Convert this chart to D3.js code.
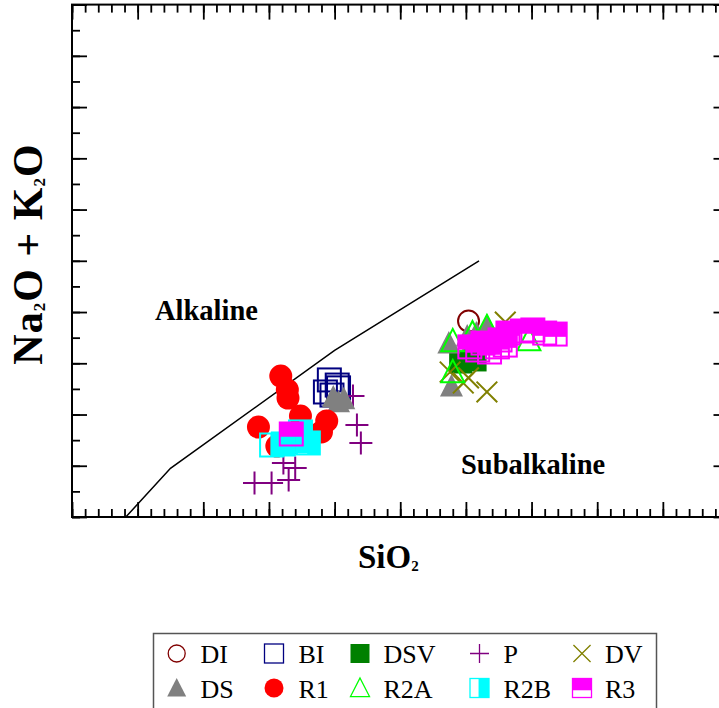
<!DOCTYPE html>
<html><head><meta charset="utf-8">
<script src="https://cdn.jsdelivr.net/npm/d3@7"></script>
<style>body{margin:0;background:#fff}svg{display:block}</style>
</head><body>
<script>
// ---- data (SiO2 wt%, Na2O+K2O wt%) ----
const xTicksMajor = [35,40,45,50,55,60,65,70,75,80,85];
const yTicksMajor = [0,2,4,6,8,10,12,14,16,18,20];
const boundarySiO2 = [39.1, 42.5, 55.0, 66.0];
const boundaryAlk  = [0.0, 1.9, 6.5, 10.0];

const DI_x = [65.2]; const DI_y = [7.65];
const BI_x = [54.6,55.2,54.3,55.3,54.8]; const BI_y = [5.35,5.15,4.88,5.04,4.76];
const DSV_x = [64.6,65.7]; const DSV_y = [6.05,6.13];
const P_x = [48.9,50.2,51.1,52.0,51.5,56.7,57.0,56.4]; const P_y = [1.33,1.33,2.11,1.91,1.44,3.59,2.89,4.72];
const DS_x = [54.9,55.7,55.3,63.7,65.1,65.8,66.6,63.9]; const DS_y = [4.68,4.61,4.49,6.79,7.06,7.18,7.46,5.11];
const DV_x = [68.0,66.6,64.8,65.2,63.8]; const DV_y = [7.61,4.88,5.23,5.43,5.66];
const R1_x = [50.9,51.4,51.45,52.4,54.4,54.0,49.2,50.6,51.8]; const R1_y = [5.50,4.96,4.64,3.94,3.75,3.32,3.51,2.77,2.89];
const R2A_x = [64.0,65.5,66.6,64.0,69.8]; const R2A_y = [6.87,7.18,7.42,5.66,6.91];
const R2B_x = [50.2,51.1,52.4,53.0,52.1]; const R2B_y = [2.81,2.85,3.32,2.89,2.97];
const R3_x = [51.7,65.3,66.3,67.4,66.8,68.2,69.3,70.1,71.0,71.8,67.6,68.0,65.9];
const R3_y = [3.24,6.64,6.79,6.64,6.44,7.18,7.26,7.30,7.18,7.14,6.91,6.71,6.52];

const legendNames = ["DI","BI","DSV","P","DV","DS","R1","R2A","R2B","R3"];

// ---- drawing ----
const W = 719, H = 708;
const svg = d3.select("body").append("svg").attr("width", W).attr("height", H);
const x = d3.scaleLinear().domain([35,85]).range([72,728.5]);
const y = d3.scaleLinear().domain([0,20]).range([517,4.6]);
const font = "'Liberation Serif','Times New Roman',serif";

const minorX = d3.range(35,86,1), minorY = d3.range(0,21,1);
function axisG(axis, tr){ const g = svg.append("g").attr("transform", tr).call(axis);
  g.selectAll("path,line").attr("stroke","#000").attr("stroke-width",1.8); g.select(".domain").remove(); return g; }
axisG(d3.axisBottom(x).tickValues(minorX).tickSize(-8).tickFormat(""), `translate(0,${y(0)})`);
axisG(d3.axisBottom(x).tickValues(xTicksMajor).tickSize(-15).tickFormat(""), `translate(0,${y(0)})`);
axisG(d3.axisTop(x).tickValues(minorX).tickSize(-8).tickFormat(""), `translate(0,${y(20)})`);
axisG(d3.axisTop(x).tickValues(xTicksMajor).tickSize(-15).tickFormat(""), `translate(0,${y(20)})`);
axisG(d3.axisLeft(y).tickValues(minorY).tickSize(-8).tickFormat(""), `translate(${x(35)},0)`);
axisG(d3.axisLeft(y).tickValues(yTicksMajor).tickSize(-15).tickFormat(""), `translate(${x(35)},0)`);
axisG(d3.axisRight(y).tickValues(minorY).tickSize(-8).tickFormat(""), `translate(${x(85)},0)`);
axisG(d3.axisRight(y).tickValues(yTicksMajor).tickSize(-15).tickFormat(""), `translate(${x(85)},0)`);
svg.append("rect").attr("x",x(35)).attr("y",y(20)).attr("width",x(85)-x(35)).attr("height",y(0)-y(20))
  .attr("fill","none").attr("stroke","#000").attr("stroke-width",2);

// boundary line
svg.append("path").datum(d3.zip(boundarySiO2, boundaryAlk))
  .attr("d", d3.line().x(d=>x(d[0])).y(d=>y(d[1])))
  .attr("fill","none").attr("stroke","#000").attr("stroke-width",1.5);

// field labels
svg.append("text").attr("x",155).attr("y",320).attr("font-family",font).attr("font-weight","bold").attr("font-size",28.5).text("Alkaline");
svg.append("text").attr("x",461).attr("y",474).attr("font-family",font).attr("font-weight","bold").attr("font-size",28.5).text("Subalkaline");

// markers
function marker(g, type, cx, cy, s, sw){
  const h = s/2;
  if(type==="DI"){ g.append("circle").attr("cx",cx).attr("cy",cy).attr("r",h-1).attr("fill","none").attr("stroke","#800000").attr("stroke-width",sw); }
  else if(type==="BI"){ g.append("rect").attr("x",cx-h).attr("y",cy-h).attr("width",s).attr("height",s).attr("fill","none").attr("stroke","#000080").attr("stroke-width",sw); }
  else if(type==="DSV"){ g.append("rect").attr("x",cx-h).attr("y",cy-h).attr("width",s).attr("height",s).attr("fill","#008000"); }
  else if(type==="P"){ g.append("path").attr("d",`M${cx-h},${cy}H${cx+h}M${cx},${cy-h}V${cy+h}`).attr("stroke","#800080").attr("stroke-width",sw); }
  else if(type==="DV"){ const k=h*0.9; g.append("path").attr("d",`M${cx-k},${cy-k}L${cx+k},${cy+k}M${cx-k},${cy+k}L${cx+k},${cy-k}`).attr("stroke","#808000").attr("stroke-width",sw); }
  else if(type==="DS"){ g.append("path").attr("d",`M${cx},${cy-h*1.05}L${cx+h},${cy+h*0.9}L${cx-h},${cy+h*0.9}Z`).attr("fill","#808080"); }
  else if(type==="R1"){ g.append("circle").attr("cx",cx).attr("cy",cy).attr("r",h).attr("fill","#ff0000"); }
  else if(type==="R2A"){ g.append("path").attr("d",`M${cx},${cy-h*1.05}L${cx+h},${cy+h*0.9}L${cx-h},${cy+h*0.9}Z`).attr("fill","none").attr("stroke","#00ff00").attr("stroke-width",sw); }
  else if(type==="R2B"){ g.append("rect").attr("x",cx-h+s*0.45).attr("y",cy-h).attr("width",s*0.55).attr("height",s).attr("fill","#00ffff");
    g.append("rect").attr("x",cx-h).attr("y",cy-h).attr("width",s).attr("height",s).attr("fill","none").attr("stroke","#00ffff").attr("stroke-width",sw); }
  else if(type==="R3"){ g.append("rect").attr("x",cx-h).attr("y",cy-h).attr("width",s).attr("height",s*0.62).attr("fill","#ff00ff");
    g.append("rect").attr("x",cx-h).attr("y",cy-h).attr("width",s).attr("height",s).attr("fill","none").attr("stroke","#ff00ff").attr("stroke-width",sw); }
}
const series = {DI:[DI_x,DI_y],BI:[BI_x,BI_y],DSV:[DSV_x,DSV_y],P:[P_x,P_y],DS:[DS_x,DS_y],DV:[DV_x,DV_y],
  R1:[R1_x,R1_y],R2A:[R2A_x,R2A_y],R2B:[R2B_x,R2B_y],R3:[R3_x,R3_y]};
const drawOrder = ["DI","BI","DSV","P","DS","DV","R1","R2A","R2B","R3"];
const pg = svg.append("g");
drawOrder.forEach(k=>{ const [xs,ys]=series[k]; xs.forEach((v,i)=>marker(pg.append("g"),k,x(v),y(ys[i]),23,2)); });

// axis titles
const yt = svg.append("text").attr("transform","translate(42,254) rotate(-90)").attr("text-anchor","middle")
  .attr("font-family",font).attr("font-weight","bold").attr("font-size",42).attr("letter-spacing",1);
yt.append("tspan").text("Na");
yt.append("tspan").attr("font-size",17).attr("dy",3).text("2");
yt.append("tspan").attr("dy",-3).text("O + K");
yt.append("tspan").attr("font-size",17).attr("dy",3).text("2");
yt.append("tspan").attr("dy",-3).text("O");
const xt = svg.append("text").attr("x",358).attr("y",568).attr("font-family",font).attr("font-weight","bold").attr("font-size",33);
xt.append("tspan").text("SiO");
xt.append("tspan").attr("font-size",15).attr("dy",3).text("2");

// legend
svg.append("rect").attr("x",153.5).attr("y",633.5).attr("width",503).attr("height",90)
  .attr("fill","#fff").attr("stroke","#555").attr("stroke-width",1.5);
const colSym = [176.7,274,360,479.5,582], colTxt=[200.5,298.5,383.5,503.5,605];
const rowSym = [653.5,688], rowTxt=[663,697.5];
legendNames.forEach((n,i)=>{ const r=Math.floor(i/5), c=i%5;
  marker(svg.append("g"), n, colSym[c], rowSym[r], 19, 1.3);
  svg.append("text").attr("x",colTxt[c]).attr("y",rowTxt[r]).attr("font-family",font).attr("font-size",26).text(n);
});
</script>
</body></html>
